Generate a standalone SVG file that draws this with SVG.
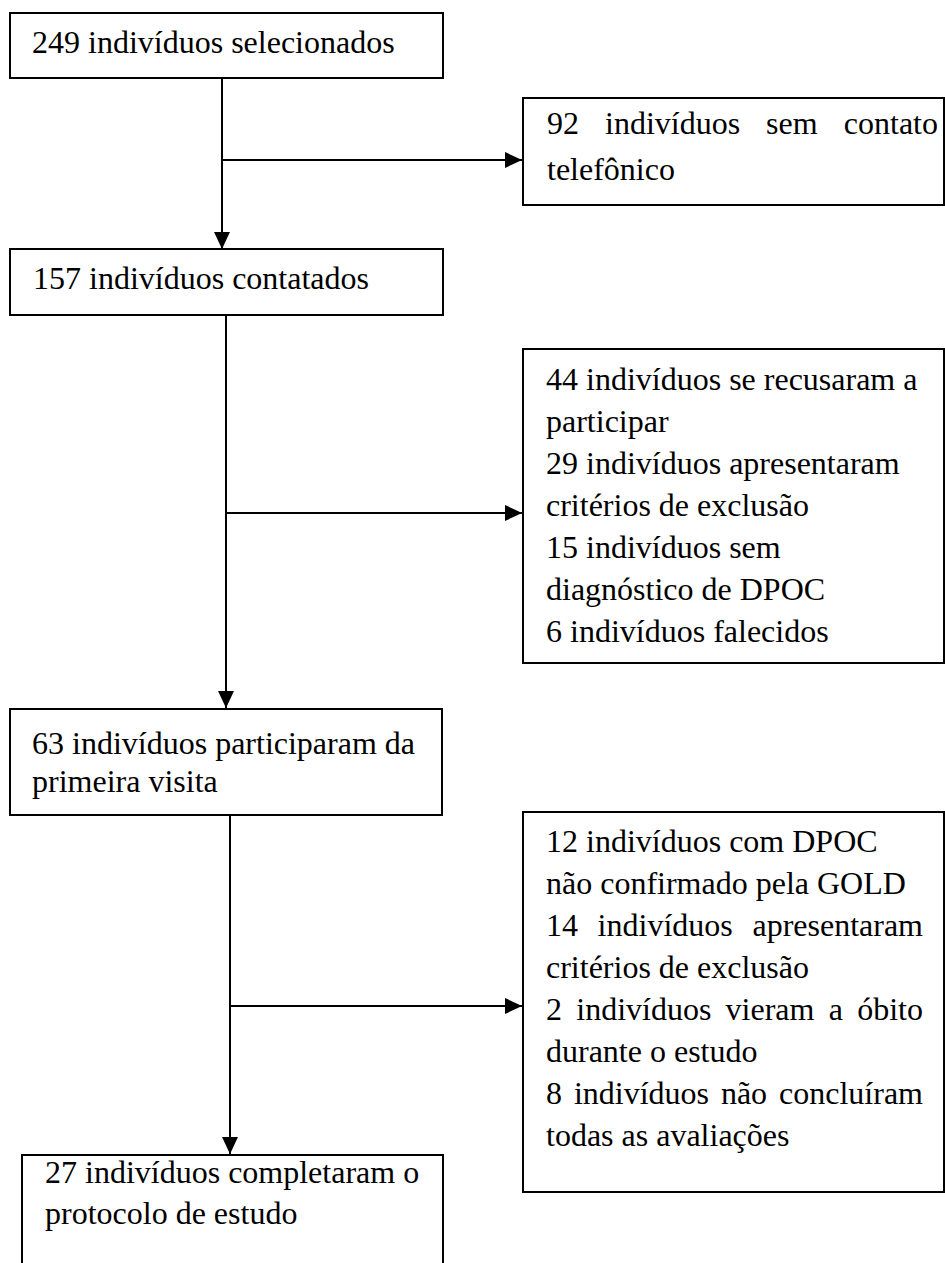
<svg xmlns="http://www.w3.org/2000/svg" width="945" height="1263" viewBox="0 0 945 1263">
<style>
.box{fill:#fff;stroke:#000;stroke-width:2}
.t{font-family:"Liberation Serif","Times New Roman",serif;font-size:32px;fill:#000}
.c{stroke:#000;stroke-width:2;fill:none}
</style>
<defs>
<marker id="ah" markerUnits="userSpaceOnUse" markerWidth="18" markerHeight="16" refX="17" refY="8" orient="auto">
<path d="M0,0 L17,8 L0,16 Z" fill="#000"/>
</marker>
</defs>
<rect width="945" height="1263" fill="#fff"/>
<g id="connectors">
<line class="c" x1="222" y1="78" x2="222" y2="249" marker-end="url(#ah)"/>
<line class="c" x1="222" y1="160" x2="522" y2="160" marker-end="url(#ah)"/>
<line class="c" x1="226" y1="315" x2="226" y2="708" marker-end="url(#ah)"/>
<line class="c" x1="226" y1="513" x2="522" y2="513" marker-end="url(#ah)"/>
<line class="c" x1="230" y1="815" x2="230" y2="1154" marker-end="url(#ah)"/>
<line class="c" x1="230" y1="1006" x2="522" y2="1006" marker-end="url(#ah)"/>
</g>
<g id="n1">
<rect class="box" x="10" y="13" width="433" height="65"/>
<text class="t" x="32" y="53">249 indivíduos selecionados</text>
</g>
<g id="n2">
<rect class="box" x="523" y="98" width="421" height="107"/>
<text class="t" y="134"><tspan x="547">92</tspan><tspan x="605">indivíduos</tspan><tspan x="766">sem</tspan><tspan x="938" text-anchor="end">contato</tspan></text>
<text class="t" x="547" y="180">telefônico</text>
</g>
<g id="n3">
<rect class="box" x="10" y="249" width="433" height="66"/>
<text class="t" x="33" y="289">157 indivíduos contatados</text>
</g>
<g id="n4">
<rect class="box" x="523" y="349" width="421" height="314"/>
<text class="t" x="546" y="390">44 indivíduos se recusaram a</text>
<text class="t" x="546" y="432">participar</text>
<text class="t" x="546" y="474">29 indivíduos apresentaram</text>
<text class="t" x="546" y="516">critérios de exclusão</text>
<text class="t" x="546" y="558">15 indivíduos sem</text>
<text class="t" x="546" y="600">diagnóstico de DPOC</text>
<text class="t" x="546" y="642">6 indivíduos falecidos</text>
</g>
<g id="n5">
<rect class="box" x="10" y="709" width="432" height="106"/>
<text class="t" x="32" y="754">63 indivíduos participaram da</text>
<text class="t" x="32" y="792">primeira visita</text>
</g>
<g id="n6">
<rect class="box" x="523" y="812" width="421" height="380"/>
<text class="t" x="546" y="852">12 indivíduos com DPOC</text>
<text class="t" x="546" y="894">não confirmado pela GOLD</text>
<text class="t" y="936"><tspan x="546">14</tspan><tspan x="597.6">indivíduos</tspan><tspan x="923" text-anchor="end">apresentaram</tspan></text>
<text class="t" x="546" y="978">critérios de exclusão</text>
<text class="t" y="1020"><tspan x="546">2</tspan><tspan x="576.3">indivíduos</tspan><tspan x="725.6">vieram</tspan><tspan x="828.8">a</tspan><tspan x="923" text-anchor="end">óbito</tspan></text>
<text class="t" x="546" y="1062">durante o estudo</text>
<text class="t" y="1104"><tspan x="546">8</tspan><tspan x="573.9">indivíduos</tspan><tspan x="720.9">não</tspan><tspan x="923" text-anchor="end">concluíram</tspan></text>
<text class="t" x="546" y="1146">todas as avaliações</text>
</g>
<g id="n7">
<rect class="box" x="22" y="1155" width="421" height="130"/>
<text class="t" x="45" y="1183">27 indivíduos completaram o</text>
<text class="t" x="45" y="1224">protocolo de estudo</text>
</g>
</svg>
